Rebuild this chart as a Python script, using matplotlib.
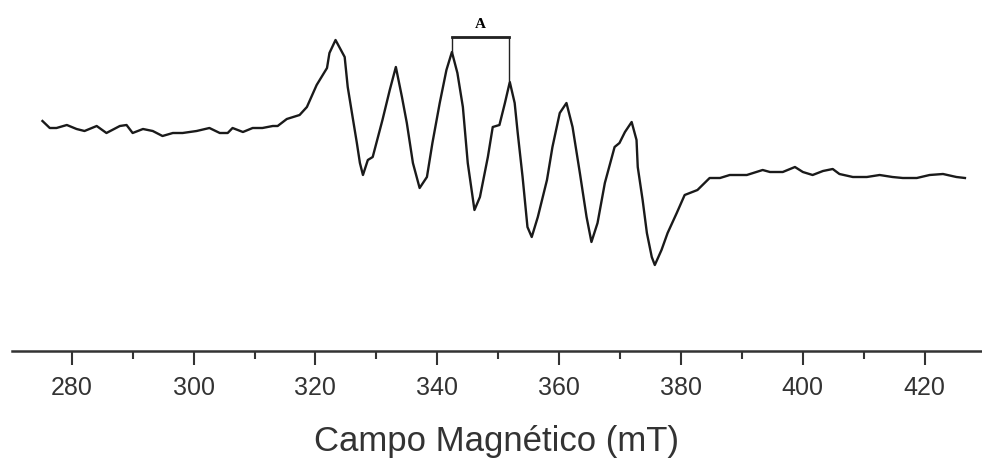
import matplotlib
matplotlib.use('Agg')
import matplotlib.pyplot as plt
from matplotlib.ticker import MultipleLocator

# Espectro EPR (campo en mT, señal en u.a.)
campo = [275.2, 276.4, 277.5, 279.2, 280.8, 282.1, 284.1, 285.7, 287.9, 289.0,
         290.0, 291.7, 293.3, 294.9, 296.6, 298.2, 300.5, 302.6, 304.3, 305.6,
         306.4, 308.1, 309.7, 311.3, 313.0, 313.8, 315.3, 317.4, 318.6, 320.2,
         321.9, 322.3, 323.3, 324.8, 325.3, 326.1, 326.8, 327.3, 327.8, 328.6,
         329.4, 331.0, 332.2, 333.2, 334.2, 335.0, 336.0, 337.1, 338.3, 339.2,
         340.4, 341.5, 342.4, 343.3, 344.2, 345.0, 346.1, 347.0, 348.3, 349.1,
         350.2, 351.1, 351.9, 352.7, 353.2, 354.0, 354.8, 355.5, 356.5, 358.0,
         358.9, 360.1, 361.2, 362.2, 363.4, 364.5, 365.3, 366.3, 367.5, 369.1,
         369.9, 370.8, 371.9, 372.7, 372.9, 373.7, 374.4, 375.2, 375.7, 376.8,
         377.8, 379.3, 380.6, 382.7, 384.7, 386.4, 388.0, 390.8, 393.4, 394.6,
         396.7, 398.7, 400.0, 401.6, 403.3, 404.9, 406.0, 408.2, 410.5, 412.6,
         414.7, 416.4, 418.7, 420.8, 423.0, 425.2, 426.6]
senal = [0.79, 0.72, 0.72, 0.75, 0.71, 0.69, 0.74, 0.67, 0.74, 0.75,
         0.67, 0.71, 0.69, 0.64, 0.67, 0.67, 0.69, 0.72, 0.67, 0.67,
         0.72, 0.68, 0.72, 0.72, 0.74, 0.74, 0.81, 0.85, 0.93, 1.15,
         1.32, 1.47, 1.60, 1.43, 1.13, 0.83, 0.57, 0.37, 0.25, 0.40,
         0.43, 0.80, 1.10, 1.33, 1.03, 0.77, 0.37, 0.12, 0.23, 0.57,
         0.97, 1.30, 1.48, 1.27, 0.93, 0.37, -0.10, 0.03, 0.43, 0.73,
         0.75, 0.97, 1.18, 0.97, 0.67, 0.23, -0.27, -0.37, -0.17, 0.20,
         0.53, 0.87, 0.97, 0.73, 0.27, -0.17, -0.42, -0.23, 0.17, 0.53,
         0.57, 0.68, 0.78, 0.60, 0.33, 0.00, -0.33, -0.57, -0.65, -0.50,
         -0.33, -0.13, 0.05, 0.10, 0.22, 0.22, 0.25, 0.25, 0.30, 0.28,
         0.28, 0.33, 0.28, 0.25, 0.29, 0.31, 0.26, 0.23, 0.23, 0.25,
         0.23, 0.22, 0.22, 0.25, 0.26, 0.23, 0.22]

# Separación hiperfina A (entre los picos 3 y 4)
a_campo = [342.4, 351.7]
a_senal = [1.48, 1.20]
a_tope = 1.63

plt.rcParams['font.family'] = ['Liberation Sans', 'DejaVu Sans']

fig = plt.figure(figsize=(9.82, 4.61), dpi=100)
ax = fig.add_axes([12 / 982, 110 / 461, 970 / 982, 351 / 461])

ax.plot(campo, senal, color='#1a1a1a', linewidth=1.7)

# Corchete "A"
ax.plot([a_campo[0], a_campo[0], a_campo[1], a_campo[1]],
        [a_senal[0], a_tope, a_tope, a_senal[1]],
        color='#222222', linewidth=1.0)
ax.plot(a_campo, [a_tope, a_tope], color='#222222', linewidth=2.0)
ax.text(sum(a_campo) / 2, a_tope + 0.06, 'A', ha='center', va='bottom',
        fontsize=11, fontweight='bold', family=['Liberation Serif'])

ax.set_xlim(270.2, 429.4)
ax.set_ylim(-1.51, 2.0)

for s in ['top', 'right', 'left']:
    ax.spines[s].set_visible(False)
ax.spines['bottom'].set_color('#333333')
ax.spines['bottom'].set_linewidth(1.8)
ax.set_yticks([])

ax.xaxis.set_major_locator(MultipleLocator(20))
ax.xaxis.set_minor_locator(MultipleLocator(10))
ax.tick_params(axis='x', which='major', length=10, width=1.5, color='#333333',
               labelsize=18, pad=8, labelcolor='#333333')
ax.tick_params(axis='x', which='minor', length=5.5, width=1.5, color='#333333')

ax.set_xlabel('Campo Magnético (mT)', fontsize=25, labelpad=18, color='#333333')

fig.savefig('out.png', dpi=100)
